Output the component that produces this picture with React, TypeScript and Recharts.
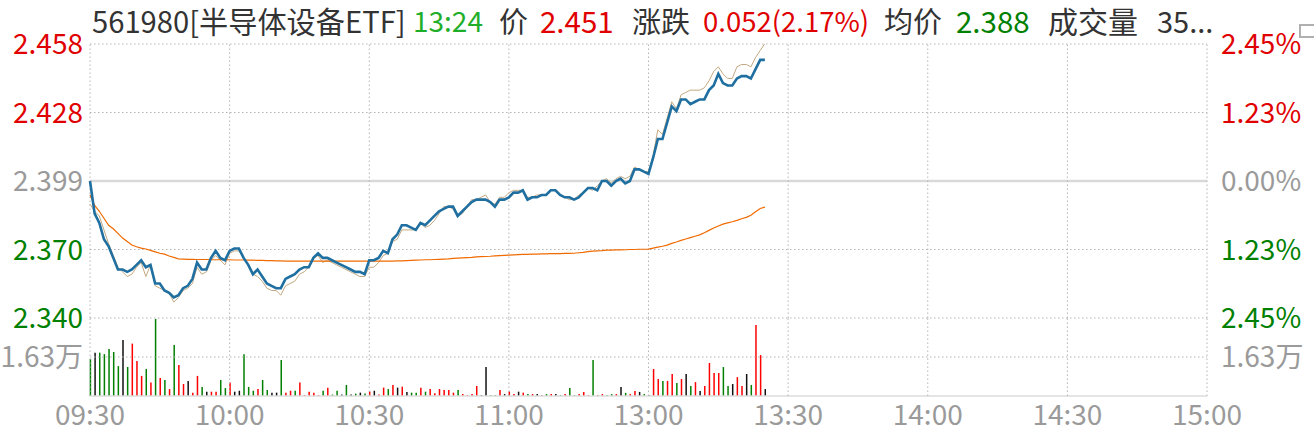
import React from 'react';
import { ComposedChart, Line, XAxis, YAxis, ReferenceLine, BarChart, Bar, Cell } from 'recharts';

const PREV_CLOSE = 2.399;

// minute index from 09:30 (0..240, lunch break removed)
const timeTicks = [0, 30, 60, 90, 120, 150, 180, 210, 240];
const timeLabels = ['09:30', '10:00', '10:30', '11:00', '13:00', '13:30', '14:00', '14:30', '15:00'];

const priceTicks = [2.3402, 2.3696, 2.399, 2.4284, 2.4578];
const leftLabels = ['2.340', '2.370', '2.399', '2.428', '2.458'];
const rightLabels = ['2.45%', '1.23%', '0.00%', '1.23%', '2.45%'];

const volTicks = [1.63];
const volLabels = ['1.63万'];

// last price per minute
const price = [
  2.399, 2.385, 2.381, 2.374, 2.371, 2.366, 2.361, 2.361, 2.360, 2.361,
  2.363, 2.365, 2.362, 2.363, 2.355, 2.355, 2.352, 2.351, 2.349, 2.350,
  2.353, 2.354, 2.357, 2.364, 2.361, 2.361, 2.366, 2.369, 2.366, 2.365,
  2.369, 2.370, 2.370, 2.366, 2.363, 2.359, 2.361, 2.358, 2.355, 2.354,
  2.353, 2.353, 2.357, 2.358, 2.359, 2.361, 2.362, 2.362, 2.366, 2.368,
  2.366, 2.366, 2.365, 2.364, 2.363, 2.362, 2.361, 2.360, 2.360, 2.359,
  2.365, 2.365, 2.366, 2.369, 2.368, 2.374, 2.376, 2.380, 2.380, 2.379,
  2.378, 2.381, 2.380, 2.382, 2.384, 2.386, 2.387, 2.388, 2.388, 2.384,
  2.386, 2.388, 2.390, 2.391, 2.391, 2.391, 2.390, 2.388, 2.391, 2.391,
  2.392, 2.394, 2.394, 2.395, 2.391, 2.392, 2.392, 2.393, 2.393, 2.395,
  2.395, 2.393, 2.392, 2.392, 2.391, 2.392, 2.394, 2.396, 2.396, 2.395,
  2.399, 2.399, 2.397, 2.399, 2.400, 2.398, 2.399, 2.404, 2.404, 2.403,
  2.402, 2.409, 2.417, 2.417, 2.424, 2.431, 2.429, 2.434, 2.434, 2.432,
  2.433, 2.434, 2.434, 2.438, 2.440, 2.445, 2.441, 2.440, 2.440, 2.443,
  2.444, 2.444, 2.443, 2.447, 2.451, 2.451,
];

// thin tan reference line
const iopv = [
  2.389, 2.386, 2.384, 2.378, 2.372, 2.367, 2.362, 2.360, 2.358, 2.359,
  2.362, 2.364, 2.358, 2.363, 2.354, 2.353, 2.352, 2.351, 2.347, 2.349,
  2.352, 2.353, 2.355, 2.362, 2.359, 2.360, 2.365, 2.367, 2.365, 2.363,
  2.368, 2.369, 2.369, 2.366, 2.363, 2.359, 2.358, 2.356, 2.353, 2.352,
  2.352, 2.350, 2.354, 2.355, 2.356, 2.359, 2.360, 2.362, 2.366, 2.367,
  2.364, 2.365, 2.364, 2.363, 2.362, 2.361, 2.360, 2.359, 2.358, 2.358,
  2.362, 2.362, 2.364, 2.367, 2.368, 2.373, 2.374, 2.378, 2.378, 2.378,
  2.378, 2.381, 2.379, 2.380, 2.382, 2.385, 2.388, 2.388, 2.387, 2.384,
  2.385, 2.388, 2.391, 2.391, 2.392, 2.393, 2.390, 2.389, 2.392, 2.392,
  2.394, 2.395, 2.395, 2.395, 2.392, 2.392, 2.393, 2.393, 2.393, 2.395,
  2.395, 2.393, 2.392, 2.391, 2.391, 2.393, 2.394, 2.396, 2.395, 2.397,
  2.399, 2.400, 2.398, 2.400, 2.401, 2.400, 2.401, 2.405, 2.404, 2.403,
  2.403, 2.410, 2.421, 2.419, 2.426, 2.433, 2.430, 2.436, 2.437, 2.438,
  2.438, 2.438, 2.439, 2.442, 2.446, 2.448, 2.445, 2.443, 2.443, 2.448,
  2.449, 2.449, 2.448, 2.452, 2.455, 2.458,
];

// average price
const avgPrice = [
  2.3930, 2.3885, 2.3860, 2.3830, 2.3800, 2.3785, 2.3765, 2.3745, 2.3730, 2.3715,
  2.3708, 2.3702, 2.3698, 2.3692, 2.3686, 2.3680, 2.3676, 2.3668, 2.3662, 2.3656,
  2.3655, 2.3654, 2.3654, 2.3653, 2.3653, 2.3653, 2.3652, 2.3652, 2.3652, 2.3652,
  2.3652, 2.3651, 2.3651, 2.3651, 2.3650, 2.3650, 2.3649, 2.3649, 2.3648, 2.3648,
  2.3647, 2.3647, 2.3646, 2.3646, 2.3646, 2.3646, 2.3646, 2.3646, 2.3646, 2.3646,
  2.3646, 2.3646, 2.3646, 2.3646, 2.3646, 2.3646, 2.3646, 2.3646, 2.3646, 2.3646,
  2.3646, 2.3646, 2.3646, 2.3646, 2.3646, 2.3646, 2.3647, 2.3647, 2.3648, 2.3649,
  2.3650, 2.3651, 2.3652, 2.3652, 2.3653, 2.3654, 2.3655, 2.3656, 2.3658, 2.3659,
  2.3660, 2.3661, 2.3662, 2.3664, 2.3665, 2.3666, 2.3667, 2.3669, 2.3670, 2.3671,
  2.3672, 2.3673, 2.3674, 2.3675, 2.3675, 2.3676, 2.3676, 2.3677, 2.3677, 2.3678,
  2.3678, 2.3678, 2.3679, 2.3679, 2.3680, 2.3682, 2.3684, 2.3687, 2.3689, 2.3690,
  2.3691, 2.3693, 2.3693, 2.3694, 2.3694, 2.3695, 2.3696, 2.3696, 2.3697, 2.3697,
  2.3698, 2.3702, 2.3706, 2.3710, 2.3715, 2.3722, 2.3728, 2.3735, 2.3741, 2.3747,
  2.3753, 2.3759, 2.3768, 2.3778, 2.3788, 2.3797, 2.3805, 2.3810, 2.3815, 2.3821,
  2.3828, 2.3834, 2.3843, 2.3858, 2.3872, 2.3878,
];

// volume per minute, in 万
const volume = [
  1.55, 1.81, 1.81, 1.75, 1.96, 1.84, 1.25, 2.34, 1.21, 2.19,
  1.46, 0.84, 1.13, 0.56, 3.22, 0.75, 0.67, 0.29, 2.13, 1.30,
  0.50, 0.63, 0.14, 0.84, 0.38, 0.18, 0.18, 0.18, 0.67, 0.33,
  0.56, 0.18, 0.22, 1.75, 0.38, 0.22, 0.29, 0.67, 0.25, 0.14,
  0.14, 1.50, 0.14, 0.22, 0.22, 0.56, 0.04, 0.18, 0.14, 0.04,
  0.22, 0.35, 0.06, 0.22, 0.06, 0.46, 0.06, 0.10, 0.14, 0.10,
  0.19, 0.22, 0.06, 0.35, 0.29, 0.46, 0.35, 0.39, 0.17, 0.14,
  0.14, 0.35, 0.18, 0.29, 0.11, 0.29, 0.25, 0.25, 0.14, 0.25,
  0.08, 0.04, 0.08, 0.42, 0.04, 1.21, 0.04, 0.04, 0.25, 0.08,
  0.19, 0.08, 0.18, 0.14, 0.08, 0.08, 0.08, 0.04, 0.08, 0.08,
  0.08, 0.04, 0.08, 0.33, 0.04, 0.08, 0.17, 0.04, 1.50, 0.04,
  0.08, 0.04, 0.08, 0.08, 0.38, 0.13, 0.08, 0.21, 0.17, 0.08,
  0.04, 1.13, 0.71, 0.63, 0.63, 0.92, 0.54, 0.71, 0.92, 0.42,
  0.58, 0.21, 0.42, 1.38, 0.96, 0.96, 1.21, 0.42, 0.50, 0.79,
  0.42, 0.92, 0.46, 2.97, 1.71, 0.29,
];

// r = up, g = down, k = flat
const volSide =
  'gkgggggkgr' +
  'rrgrgrgrgr' +
  'rkrrgkrrgg' +
  'rkkgggrggk' +
  'kgrrgrrrrr' +
  'grggkgkgkg' +
  'rkrrgrkrkg' +
  'grgrrrrrrg' +
  'rrrrkkggrk' +
  'rrkrgrkrgr' +
  'kgrggrrrgr' +
  'rggrkgrrkg' +
  'krrgrrgrkg' +
  'rkrrrrggkr' +
  'rkgrrk';

const RED = '#e00000';
const GREEN = '#008000';
const GRAY = '#9a9a9a';
const DARK = '#333333';
const BAR_COLORS: Record<string, string> = { r: '#ff0000', g: '#008000', k: '#111111' };
const FONT = '"Noto Sans CJK SC", "Noto Sans", sans-serif';
const FS = 28;

const rows = price.map((p, i) => ({
  t: i,
  price: p,
  iopv: iopv[i],
  avg: avgPrice[i],
  vol: volume[i],
  side: volSide[i],
}));

const colorFor = (v: number) =>
  v > PREV_CLOSE + 1e-6 ? RED : v < PREV_CLOSE - 1e-6 ? GREEN : GRAY;

const LeftPriceTick = (props: any) => {
  const { x, y, payload } = props;
  const i = priceTicks.indexOf(payload.value);
  return (
    <text x={x} y={y} dy="0.36em" textAnchor="end" fill={colorFor(payload.value)} fontSize={FS} fontFamily={FONT}>
      {leftLabels[i]}
    </text>
  );
};
const RightPriceTick = (props: any) => {
  const { x, y, payload } = props;
  const i = priceTicks.indexOf(payload.value);
  return (
    <text x={x} y={y} dy="0.36em" textAnchor="start" fill={colorFor(payload.value)} fontSize={FS} fontFamily={FONT}>
      {rightLabels[i]}
    </text>
  );
};
const volLabel = (v: number) => volLabels[volTicks.indexOf(v)] ?? '';

const GRID = '#b4b4b4';
const DOT = '1.5 2.5';

const header: { text: string; x: number; color: string; size: number }[] = [
  { text: '561980[半导体设备ETF]', x: 92, color: DARK, size: 29.2 },
  { text: '13:24', x: 413, color: '#1fae2a', size: 28 },
  { text: '价', x: 499, color: DARK, size: 29 },
  { text: '2.451', x: 540, color: RED, size: 29.5 },
  { text: '涨跌', x: 632, color: DARK, size: 29 },
  { text: '0.052(2.17%)', x: 703, color: RED, size: 27.5 },
  { text: '均价', x: 884, color: DARK, size: 29 },
  { text: '2.388', x: 956, color: GREEN, size: 29.5 },
  { text: '成交量', x: 1048, color: DARK, size: 30 },
  { text: '35...', x: 1157, color: DARK, size: 29 },
];

export default function App() {
  return (
    <div style={{ position: 'fixed', left: 0, top: 0, width: 1314, height: 428, background: '#fff', overflow: 'hidden' }}>
      {header.map((h) => (
        <span
          key={h.text}
          style={{
            position: 'absolute',
            left: h.x,
            top: 0,
            fontFamily: FONT,
            fontSize: h.size,
            lineHeight: '40px',
            color: h.color,
            whiteSpace: 'nowrap',
          }}
        >
          {h.text}
        </span>
      ))}
      <div
        style={{
          position: 'absolute',
          left: 1299,
          top: 24,
          width: 20,
          height: 14,
          border: '2px solid #b0b0b0',
          boxSizing: 'border-box',
        }}
      />

      <div style={{ position: 'absolute', left: 0, top: 0 }}>
        <ComposedChart width={1314} height={428} data={rows} margin={{ top: 44, right: 0, bottom: 110, left: 0 }}>
          <XAxis dataKey="t" type="number" domain={[0, 240]} hide />
          <YAxis
            yAxisId="l"
            width={90}
            domain={[priceTicks[0], priceTicks[4]]}
            ticks={priceTicks}
            allowDataOverflow
            axisLine={false}
            tickLine={false}
            tickSize={0}
            tickMargin={7}
            tick={LeftPriceTick}
            interval={0}
          />
          <YAxis
            yAxisId="r"
            orientation="right"
            width={107}
            domain={[priceTicks[0], priceTicks[4]]}
            ticks={priceTicks}
            allowDataOverflow
            axisLine={false}
            tickLine={false}
            tickSize={0}
            tickMargin={14}
            tick={RightPriceTick}
            interval={0}
          />
          {priceTicks
            .filter((v) => v !== PREV_CLOSE)
            .map((v) => (
              <ReferenceLine key={'h' + v} yAxisId="l" y={v} stroke={GRID} strokeDasharray={DOT} />
            ))}
          <ReferenceLine yAxisId="l" y={PREV_CLOSE} stroke="#d9d9d9" strokeWidth={2.5} />
          {timeTicks.map((t) => (
            <ReferenceLine key={'v' + t} yAxisId="l" x={t} stroke={GRID} strokeDasharray={DOT} />
          ))}
          <Line yAxisId="l" dataKey="iopv" type="linear" stroke="#c2a882" strokeWidth={1} dot={false} isAnimationActive={false} />
          <Line yAxisId="l" dataKey="avg" type="linear" stroke="#f06a00" strokeWidth={1.2} dot={false} isAnimationActive={false} />
          <Line yAxisId="l" dataKey="price" type="linear" stroke="#1f6fa0" strokeWidth={2.6} dot={false} isAnimationActive={false} />
        </ComposedChart>
      </div>

      <div style={{ position: 'absolute', left: 0, top: 0 }}>
        <BarChart width={1314} height={428} data={rows} margin={{ top: 318, right: 0, bottom: 0, left: 0 }}>
          <XAxis
            dataKey="t"
            type="number"
            domain={[0, 240]}
            ticks={timeTicks}
            interval={0}
            height={32}
            axisLine={false}
            tickLine={false}
            tickSize={0}
            tickMargin={9}
            tickFormatter={(v: number) => timeLabels[timeTicks.indexOf(v)]}
            tick={{ fill: GRAY, fontSize: FS, fontFamily: FONT }}
          />
          <YAxis
            yAxisId="l"
            width={90}
            domain={[0, 3.26]}
            ticks={volTicks}
            allowDataOverflow
            axisLine={false}
            tickLine={false}
            tickSize={0}
            tickMargin={7}
            tickFormatter={volLabel}
            tick={{ fill: GRAY, fontSize: FS, fontFamily: FONT }}
          />
          <YAxis
            yAxisId="r"
            orientation="right"
            width={107}
            domain={[0, 3.26]}
            ticks={volTicks}
            allowDataOverflow
            axisLine={false}
            tickLine={false}
            tickSize={0}
            tickMargin={14}
            tickFormatter={volLabel}
            tick={{ fill: GRAY, fontSize: FS, fontFamily: FONT }}
          />
          <ReferenceLine yAxisId="l" y={1.63} stroke={GRID} strokeDasharray={DOT} />
          <ReferenceLine yAxisId="l" y={0} stroke="#dcdcdc" strokeWidth={1.5} />
          {timeTicks.map((t) => (
            <ReferenceLine key={'vb' + t} yAxisId="l" x={t} stroke={GRID} strokeDasharray={DOT} />
          ))}
          <Bar yAxisId="l" dataKey="vol" barSize={1.5} isAnimationActive={false}>
            {rows.map((r) => (
              <Cell key={r.t} fill={BAR_COLORS[r.side]} />
            ))}
          </Bar>
        </BarChart>
      </div>
    </div>
  );
}
